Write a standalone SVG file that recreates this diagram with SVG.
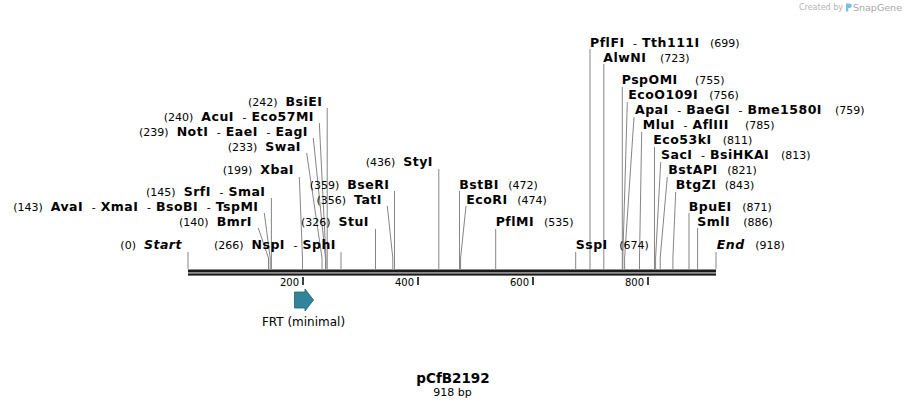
<svg xmlns="http://www.w3.org/2000/svg" width="905" height="408" viewBox="0 0 905 408">
<style>
text{font-family:"DejaVu Sans",Verdana,"Liberation Sans",sans-serif;fill:#000;font-size:11px}
.n{font-size:12.5px;font-weight:bold;letter-spacing:0.5px}
.i{font-size:12.5px;font-weight:bold;font-style:italic;letter-spacing:0.5px}
.p{font-size:11px;font-weight:normal;letter-spacing:0}
.t{font-size:10px}
.e{text-anchor:end}
.ln{fill:none;stroke:#858585;stroke-width:1}
.tick{stroke:#000;stroke-width:1.5}
</style>
<rect width="905" height="408" fill="#fff"/>
<g id="credit">
<text x="843" y="10" text-anchor="end" style="font-size:8px;fill:#b4b4b4">Created by</text>
<path d="M846 3.5 h3.5 a2.3 2.3 0 0 1 0 4.6 h-1.2 v3.4 h-2.3 z" fill="#7cc0ea"/>
<text x="853" y="10.5" style="font-size:9.5px;fill:#a8a8a8">SnapGene</text>
</g>
<g id="connectors">
<path class="ln" d="M188 252V269"/>
<path class="ln" d="M258.3 228L268.5 258V269"/>
<path class="ln" d="M264.3 213L270.2 258V269"/>
<path class="ln" d="M271.4 198V269"/>
<path class="ln" d="M299.3 177L302.5 258V269"/>
<path class="ln" d="M306.7 153L322 258V269"/>
<path class="ln" d="M313.3 138L325.5 258V269"/>
<path class="ln" d="M319.3 123L326 258V269"/>
<path class="ln" d="M327.2 108V269"/>
<path class="ln" d="M341 252V269"/>
<path class="ln" d="M375.5 229V269"/>
<path class="ln" d="M387.3 206L392.8 258V269"/>
<path class="ln" d="M394.5 191V269"/>
<path class="ln" d="M438.8 169V269"/>
<path class="ln" d="M459.5 191V269"/>
<path class="ln" d="M466 206L460.6 258V269"/>
<path class="ln" d="M495.7 229V269"/>
<path class="ln" d="M575.7 252V269"/>
<path class="ln" d="M590 49V269"/>
<path class="ln" d="M603.8 64V269"/>
<path class="ln" d="M622.3 87V269"/>
<path class="ln" d="M627.3 102L622.8 258V269"/>
<path class="ln" d="M634 117L624.6 258V269"/>
<path class="ln" d="M641.7 132L639.5 258V269"/>
<path class="ln" d="M654.5 147V269"/>
<path class="ln" d="M660.7 162L655.6 258V269"/>
<path class="ln" d="M667.3 177L660.2 258V269"/>
<path class="ln" d="M675.7 192L672.9 258V269"/>
<path class="ln" d="M689 213V269"/>
<path class="ln" d="M697.6 228V269"/>
<path class="ln" d="M716 252V269"/>
</g>
<g id="backbone">
<rect x="188" y="269.5" width="528" height="3" fill="#1a1a1a"/>
<rect x="188" y="273.4" width="528" height="2.2" fill="#1a1a1a"/>
<line class="tick" x1="303" y1="277" x2="303" y2="285"/>
<line class="tick" x1="418" y1="277" x2="418" y2="285"/>
<line class="tick" x1="533" y1="277" x2="533" y2="285"/>
<line class="tick" x1="648" y1="277" x2="648" y2="285"/>
<text class="t" x="299" y="286" text-anchor="end">200</text>
<text class="t" x="414" y="286" text-anchor="end">400</text>
<text class="t" x="529" y="286" text-anchor="end">600</text>
<text class="t" x="644" y="286" text-anchor="end">800</text>
</g>
<g id="feature-FRT">
<path d="M294.5 292H305V289L313.5 300L305 311V308H294.5Z" fill="#31849b" stroke="#24606f" stroke-width="0.8"/>
<text x="303.5" y="325.5" text-anchor="middle" style="font-size:12px">FRT (minimal)</text>
</g>
<g id="site-Start"><text class="e" x="182" y="249"><tspan class="p">(0)</tspan><tspan class="i" dx="8">Start</tspan></text></g>
<g id="site-BsiEI"><text class="e" x="322.5" y="106"><tspan class="p">(242)</tspan><tspan class="n" dx="8">BsiEI</tspan></text></g>
<g id="site-AcuI"><text class="e" x="314" y="121"><tspan class="p">(240)</tspan><tspan class="n" dx="8">AcuI</tspan><tspan class="p" dx="8.5">-</tspan><tspan class="n" dx="5">Eco57MI</tspan></text></g>
<g id="site-NotI"><text class="e" x="308" y="136"><tspan class="p">(239)</tspan><tspan class="n" dx="8">NotI</tspan><tspan class="p" dx="8.5">-</tspan><tspan class="n" dx="5">EaeI</tspan><tspan class="p" dx="8.5">-</tspan><tspan class="n" dx="5">EagI</tspan></text></g>
<g id="site-SwaI"><text class="e" x="301" y="151"><tspan class="p">(233)</tspan><tspan class="n" dx="8">SwaI</tspan></text></g>
<g id="site-XbaI"><text class="e" x="294" y="174"><tspan class="p">(199)</tspan><tspan class="n" dx="8">XbaI</tspan></text></g>
<g id="site-SrfI"><text class="e" x="265.5" y="196"><tspan class="p">(145)</tspan><tspan class="n" dx="8">SrfI</tspan><tspan class="p" dx="8.5">-</tspan><tspan class="n" dx="5">SmaI</tspan></text></g>
<g id="site-AvaI"><text class="e" x="258.5" y="211"><tspan class="p">(143)</tspan><tspan class="n" dx="8">AvaI</tspan><tspan class="p" dx="8.5">-</tspan><tspan class="n" dx="5">XmaI</tspan><tspan class="p" dx="8.5">-</tspan><tspan class="n" dx="5">BsoBI</tspan><tspan class="p" dx="8.5">-</tspan><tspan class="n" dx="5">TspMI</tspan></text></g>
<g id="site-BmrI"><text class="e" x="252" y="226"><tspan class="p">(140)</tspan><tspan class="n" dx="8">BmrI</tspan></text></g>
<g id="site-NspI"><text class="e" x="336" y="249"><tspan class="p">(266)</tspan><tspan class="n" dx="8">NspI</tspan><tspan class="p" dx="8.5">-</tspan><tspan class="n" dx="5">SphI</tspan></text></g>
<g id="site-StyI"><text class="e" x="433" y="166"><tspan class="p">(436)</tspan><tspan class="n" dx="8">StyI</tspan></text></g>
<g id="site-BseRI"><text class="e" x="389.5" y="189"><tspan class="p">(359)</tspan><tspan class="n" dx="8">BseRI</tspan></text></g>
<g id="site-TatI"><text class="e" x="382" y="203.5"><tspan class="p">(356)</tspan><tspan class="n" dx="8">TatI</tspan></text></g>
<g id="site-StuI"><text class="e" x="369" y="226"><tspan class="p">(326)</tspan><tspan class="n" dx="8">StuI</tspan></text></g>
<g id="site-BstBI"><text class="n" x="459.3" y="189">BstBI</text><text class="p" x="508.3" y="189">(472)</text></g>
<g id="site-EcoRI"><text class="n" x="466.3" y="203.5">EcoRI</text><text class="p" x="517.3" y="203.5">(474)</text></g>
<g id="site-PflMI"><text class="n" x="495.7" y="226">PflMI</text><text class="p" x="544" y="226">(535)</text></g>
<g id="site-SspI"><text class="n" x="575.7" y="249">SspI</text><text class="p" x="619.3" y="249">(674)</text></g>
<g id="site-PflFI"><text x="590" y="46.5"><tspan class="n">PflFI</tspan><tspan class="p" dx="8.5">-</tspan><tspan class="n" dx="5">Tth111I</tspan></text><text class="p" x="710" y="46.5">(699)</text></g>
<g id="site-AlwNI"><text class="n" x="603.3" y="61.5">AlwNI</text><text class="p" x="660" y="61.5">(723)</text></g>
<g id="site-PspOMI"><text class="n" x="621.7" y="84">PspOMI</text><text class="p" x="695" y="84">(755)</text></g>
<g id="site-EcoO109I"><text class="n" x="628.3" y="99">EcoO109I</text><text class="p" x="709.3" y="99">(756)</text></g>
<g id="site-ApaI"><text x="635" y="114"><tspan class="n">ApaI</tspan><tspan class="p" dx="8.5">-</tspan><tspan class="n" dx="5">BaeGI</tspan><tspan class="p" dx="8.5">-</tspan><tspan class="n" dx="5">Bme1580I</tspan></text><text class="p" x="835" y="114">(759)</text></g>
<g id="site-MluI"><text x="642.7" y="129"><tspan class="n">MluI</tspan><tspan class="p" dx="8.5">-</tspan><tspan class="n" dx="5">AflIII</tspan></text><text class="p" x="745" y="129">(785)</text></g>
<g id="site-Eco53kI"><text class="n" x="653.3" y="144">Eco53kI</text><text class="p" x="722.7" y="144">(811)</text></g>
<g id="site-SacI"><text x="661" y="159"><tspan class="n">SacI</tspan><tspan class="p" dx="8.5">-</tspan><tspan class="n" dx="5">BsiHKAI</tspan></text><text class="p" x="781" y="159">(813)</text></g>
<g id="site-BstAPI"><text class="n" x="668.3" y="174">BstAPI</text><text class="p" x="727.3" y="174">(821)</text></g>
<g id="site-BtgZI"><text class="n" x="675.7" y="189">BtgZI</text><text class="p" x="724.7" y="189">(843)</text></g>
<g id="site-BpuEI"><text class="n" x="688.7" y="211">BpuEI</text><text class="p" x="742.3" y="211">(871)</text></g>
<g id="site-SmlI"><text class="n" x="697.3" y="226">SmlI</text><text class="p" x="743.3" y="226">(886)</text></g>
<g id="site-End"><text class="i" x="716.7" y="249">End</text><text class="p" x="755.3" y="249">(918)</text></g>
<g id="title">
<text x="453" y="383" text-anchor="middle" style="font-size:13.5px;font-weight:bold">pCfB2192</text>
<text x="452.5" y="395.5" text-anchor="middle" style="font-size:11px">918 bp</text>
</g>
</svg>
